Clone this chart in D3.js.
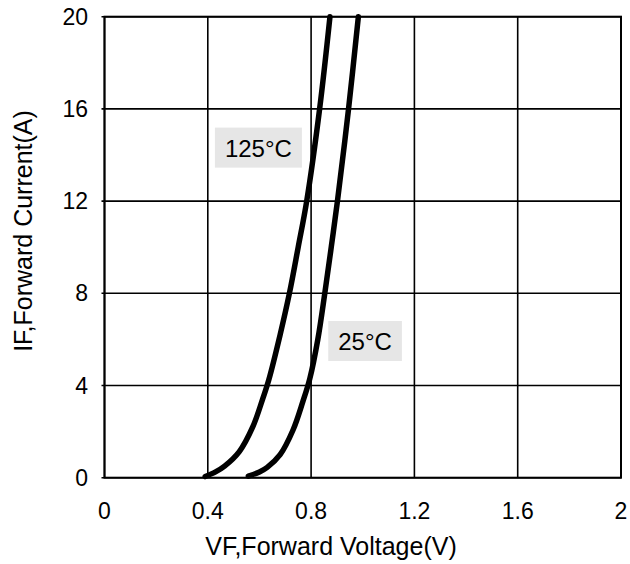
<!DOCTYPE html>
<html>
<head>
<meta charset="utf-8">
<script src="https://cdn.jsdelivr.net/npm/d3@7"></script>
<style>
    body { margin: 0; background: #fff; }
    svg { display: block; font-family: "Liberation Sans", Arial, sans-serif; }
</style>
</head>
<body>
<svg width="630" height="564"></svg>
<script>
const xTicks = [0, 0.4, 0.8, 1.2, 1.6, 2];
const yTicks = [0, 4, 8, 12, 16, 20];

// [VF (V), IF (A)]
const curve125 = [[0.39, 0.05], [0.43, 0.25], [0.465, 0.5], [0.522, 1.13], [0.574, 2.2], [0.612, 3.4],
    [0.636, 4.24], [0.68, 6.2], [0.716, 8], [0.75, 10], [0.783, 12], [0.833, 16], [0.873, 20]];
const curve25 = [[0.557, 0.07], [0.6, 0.25], [0.63, 0.45], [0.68, 1.0], [0.73, 2.07], [0.768, 3.3],
    [0.795, 4.3], [0.826, 6], [0.853, 8], [0.878, 10], [0.902, 12], [0.945, 16], [0.983, 20]];

const labelNames = ['125°C', '25°C'];
const labelX = [0.596, 1.009];
const labelY = [13.93, 5.54];

function chart() {
    const svg = d3.select("svg");
    const left = 104.5, right = 621, top = 16.7, bottom = 477.7;

    const x = d3.scaleLinear().domain([0, 2]).range([left, right]);
    const y = d3.scaleLinear().domain([0, 20]).range([bottom, top]);

    // grid
    svg.append("g")
        .selectAll("line")
        .data(xTicks)
        .enter()
        .append("line")
        .attr("x1", d => x(d)).attr("x2", d => x(d))
        .attr("y1", top).attr("y2", bottom)
        .attr("stroke", "#000").attr("stroke-width", 1.6);

    svg.append("g")
        .selectAll("line")
        .data(yTicks)
        .enter()
        .append("line")
        .attr("x1", left - 3).attr("x2", right)
        .attr("y1", d => y(d)).attr("y2", d => y(d))
        .attr("stroke", "#000").attr("stroke-width", 1.6);

    svg.append("rect")
        .attr("x", left).attr("y", top)
        .attr("width", right - left).attr("height", bottom - top)
        .attr("fill", "none").attr("stroke", "#000").attr("stroke-width", 2);

    // tick labels
    svg.append("g")
        .selectAll("text")
        .data(xTicks)
        .enter()
        .append("text")
        .attr("x", d => x(d))
        .attr("y", 519)
        .attr("text-anchor", "middle")
        .attr("font-size", 23)
        .text(d => d);

    svg.append("g")
        .selectAll("text")
        .data(yTicks)
        .enter()
        .append("text")
        .attr("x", 88)
        .attr("y", d => y(d) + 8)
        .attr("text-anchor", "end")
        .attr("font-size", 23)
        .text(d => d);

    // axis titles
    svg.append("text")
        .attr("x", 331).attr("y", 555)
        .attr("text-anchor", "middle")
        .attr("font-size", 25)
        .text("VF,Forward Voltage(V)");

    svg.append("text")
        .attr("transform", "translate(32,231) rotate(-90)")
        .attr("text-anchor", "middle")
        .attr("font-size", 25)
        .text("IF,Forward Current(A)");

    // curves
    const line = d3.line()
        .x(d => x(d[0]))
        .y(d => y(d[1]))
        .curve(d3.curveCatmullRom.alpha(0.5));

    svg.selectAll(".curve")
        .data([curve125, curve25])
        .enter()
        .append("path")
        .attr("class", "curve")
        .attr("d", line)
        .attr("fill", "none")
        .attr("stroke", "#000")
        .attr("stroke-width", 5.5)
        .attr("stroke-linecap", "round");

    // temperature labels with grey boxes
    labelNames.forEach((name, i) => {
        const g = svg.append("g");
        const t = g.append("text")
            .attr("x", x(labelX[i]))
            .attr("y", y(labelY[i]))
            .attr("text-anchor", "middle")
            .attr("font-size", 24)
            .text(name);
        const b = t.node().getBBox();
        g.insert("rect", "text")
            .attr("x", b.x - 10)
            .attr("y", y(labelY[i]) - 29)
            .attr("width", b.width + 20)
            .attr("height", 40)
            .attr("fill", "#e6e6e6");
    });
}

chart();
</script>
</body>
</html>
